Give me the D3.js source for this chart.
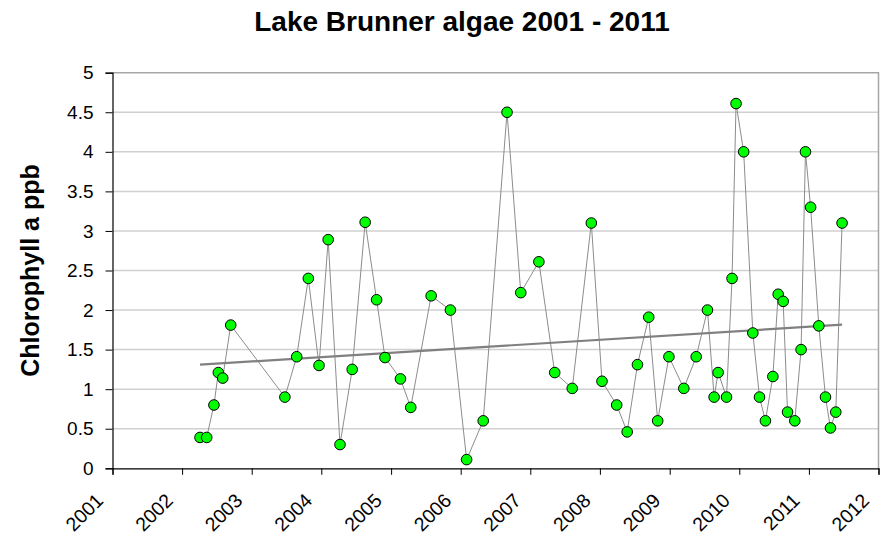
<!DOCTYPE html>
<html><head><meta charset="utf-8">
<script src="https://cdn.jsdelivr.net/npm/d3@7"></script>
<style>
body{margin:0;background:#fff}
svg{display:block;font-family:Arial,"Liberation Sans",sans-serif}
</style>
</head><body><svg id="chart" width="883" height="539"></svg>
<script>
const chartTitle = "Lake Brunner algae 2001 - 2011";
const yAxisTitle = "Chlorophyll a ppb";
const sampleDates = [
 "2002-04-05","2002-05-10","2002-06-17","2002-07-10","2002-08-02","2002-09-13",
 "2003-06-24","2003-08-25","2003-10-25","2003-12-20",
 "2004-02-06","2004-04-08","2004-06-11","2004-08-18","2004-10-17","2004-11-30",
 "2005-02-19","2005-04-14","2005-07-30","2005-11-08",
 "2006-02-01","2006-04-29","2006-09-01","2006-11-12",
 "2007-02-15","2007-05-09","2007-08-09","2007-11-17",
 "2008-01-12","2008-03-29","2008-05-23","2008-07-16","2008-09-13","2008-10-30","2008-12-28",
 "2009-03-16","2009-05-20","2009-07-18","2009-08-22","2009-09-12","2009-10-26","2009-11-24","2009-12-15",
 "2010-01-24","2010-03-13","2010-04-17","2010-05-18","2010-06-26","2010-07-24","2010-08-19","2010-09-11","2010-10-19","2010-11-21","2010-12-14",
 "2011-01-10","2011-02-22","2011-03-29","2011-04-24","2011-05-22","2011-06-24"
];
const chlorophyll = [
 0.39,0.39,0.80,1.21,1.14,1.81,
 0.90,1.41,2.40,1.30,
 2.89,0.30,1.25,3.11,2.13,1.40,
 1.13,0.77,2.18,2.00,
 0.11,0.60,4.50,2.22,
 2.61,1.21,1.01,3.10,
 1.10,0.80,0.46,1.31,1.91,0.60,1.41,
 1.01,1.41,2.00,0.90,1.21,0.90,2.40,4.61,
 4.00,1.71,0.90,0.60,1.16,2.20,2.11,0.71,0.60,1.50,4.00,
 3.30,1.80,0.90,0.51,0.71,3.10
];
const yTickValues = [0,0.5,1,1.5,2,2.5,3,3.5,4,4.5,5];
const yTickLabels = ["0","0.5","1","1.5","2","2.5","3","3.5","4","4.5","5"];
const yearTicks = ["2001","2002","2003","2004","2005","2006","2007","2008","2009","2010","2011","2012"];

const parse = d3.utcParse("%Y-%m-%d");
const data = sampleDates.map((d,i)=>({date:parse(d), value:chlorophyll[i]}));
const yearDates = yearTicks.map(yr=>parse(yr+"-01-01"));

const svg = d3.select("#chart");
const pLeft = 112.5, pRight = 878.5, pTop = 72.7, pBottom = 468.3;
const FONT = "Arial, 'Liberation Sans', sans-serif";

const x = d3.scaleUtc().domain([yearDates[0], yearDates[yearDates.length-1]]).range([pLeft,pRight]);
const y = d3.scaleLinear().domain([0,5]).range([pBottom,pTop]);

// gridlines
svg.append("g").selectAll("line").data(yTickValues.filter(v=>v>0 && v<5)).join("line")
  .attr("x1",pLeft).attr("x2",pRight).attr("y1",d=>y(d)).attr("y2",d=>y(d))
  .attr("stroke","#d0d0d0").attr("stroke-width",1.5);
// plot border top/right
svg.append("path").attr("d",`M${pLeft},${y(5)}H${pRight}V${pBottom}`)
  .attr("fill","none").attr("stroke","#a6a6a6").attr("stroke-width",1.5);

// y axis
const yAxis = d3.axisLeft(y).tickValues(yTickValues).tickSize(7).tickPadding(12)
  .tickFormat((d,i)=>yTickLabels[i]);
const gy = svg.append("g").attr("transform",`translate(${pLeft},0)`).call(yAxis);
gy.select(".domain").attr("stroke","#000").attr("stroke-width",1.2);
gy.selectAll(".tick line").attr("stroke","#000");
gy.selectAll(".tick text").attr("font-size","19px").attr("font-family",FONT).attr("fill","#000");

// x axis
const xAxis = d3.axisBottom(x).tickValues(yearDates).tickSize(6.5).tickFormat((d,i)=>yearTicks[i]);
const gx = svg.append("g").attr("transform",`translate(0,${pBottom})`).call(xAxis);
gx.select(".domain").attr("stroke","#000").attr("stroke-width",1.2);
gx.selectAll(".tick line").attr("stroke","#000");
gx.selectAll(".tick text")
  .attr("font-size","19.5px").attr("font-family",FONT).attr("fill","#000")
  .attr("text-anchor","end").attr("dy",null).attr("y",null)
  .attr("transform","translate(-8.5,33.5) rotate(-45)");

// connecting line
svg.append("path").datum(data)
  .attr("d", d3.line().x(d=>x(d.date)).y(d=>y(d.value)))
  .attr("fill","none").attr("stroke","#8c8c8c").attr("stroke-width",1);

// linear trend (least squares)
const xs = data.map(d=>+d.date), ys = data.map(d=>d.value);
const mx = d3.mean(xs), my = d3.mean(ys);
const slope = d3.sum(xs.map((v,i)=>(v-mx)*(ys[i]-my))) / d3.sum(xs.map(v=>(v-mx)*(v-mx)));
const icpt = my - slope*mx;
const ext = d3.extent(xs);
svg.append("line")
  .attr("x1",x(new Date(ext[0]))).attr("y1",y(icpt+slope*ext[0]))
  .attr("x2",x(new Date(ext[1]))).attr("y2",y(icpt+slope*ext[1]))
  .attr("stroke","#808080").attr("stroke-width",2.2);

// markers
svg.append("g").selectAll("circle").data(data).join("circle")
  .attr("cx",d=>x(d.date)).attr("cy",d=>y(d.value)).attr("r",5.3)
  .attr("fill","#00ff00").attr("stroke","#000").attr("stroke-width",1);

// titles
svg.append("text").attr("x",462).attr("y",31).attr("text-anchor","middle")
  .attr("font-family",FONT).attr("font-size","28px").attr("font-weight","bold").text(chartTitle);
svg.append("text").attr("transform",`translate(39,${(pTop+pBottom)/2}) rotate(-90)`)
  .attr("text-anchor","middle").attr("font-family",FONT).attr("font-size","25px").attr("font-weight","bold").text(yAxisTitle);
</script>
</body></html>
